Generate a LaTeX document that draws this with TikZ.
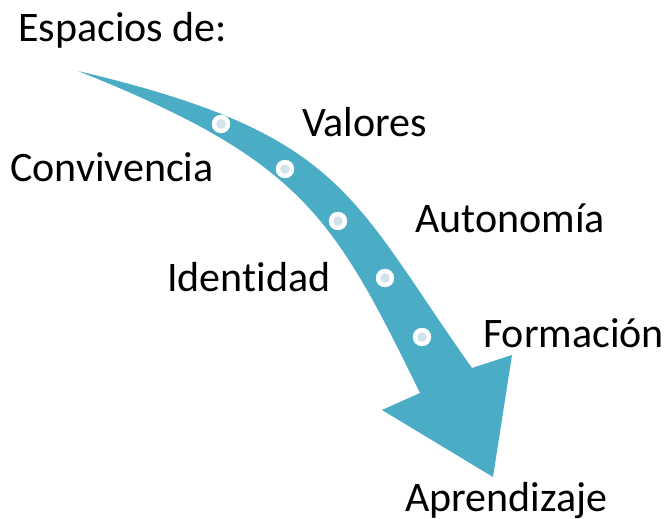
\documentclass[tikz,border=0pt]{standalone}
\usepackage{fontspec}
\setmainfont{Carlito}[Ligatures=NoCommon]
\definecolor{flecha}{RGB}{75,172,198}
\definecolor{punto}{RGB}{211,227,236}

\begin{document}
\begin{tikzpicture}[x=1pt,y=-1pt,
	etiqueta/.style={anchor=base west,inner sep=0pt,font=\fontsize{42}{50}\selectfont}]
	\useasboundingbox (0,0) rectangle (665,519);
	% flecha curva
	\fill[flecha] (78,71) .. controls (345,134) and (350,196) .. (472,368)
		-- (512,355) -- (493,477) -- (382,410) -- (420,393)
		.. controls (333,215) and (301,160) .. (78,71) -- cycle;
	\foreach \x/\y in {221/124,285/169,338/221,385/278,422/337}{
		\filldraw[white] (\x,\y) circle (9pt);
		\filldraw[punto] (\x,\y) circle (4.5pt);
	}
	% etiquetas
	\node[etiqueta] (espacios) at (18,42) {Espacios de:};
	\node[etiqueta] (valores) at (302,137) {Valores};
	\node[etiqueta] (convivencia) at (10,181) {Convivencia};
	\node[etiqueta] (autonomia) at (415,233) {Autonomía};
	\node[etiqueta] (identidad) at (167,291) {Identidad};
	\node[etiqueta] (formacion) at (483,347) {Formación};
	\node[etiqueta] (aprendizaje) at (405,511) {Aprendizaje};
\end{tikzpicture}
\end{document}
